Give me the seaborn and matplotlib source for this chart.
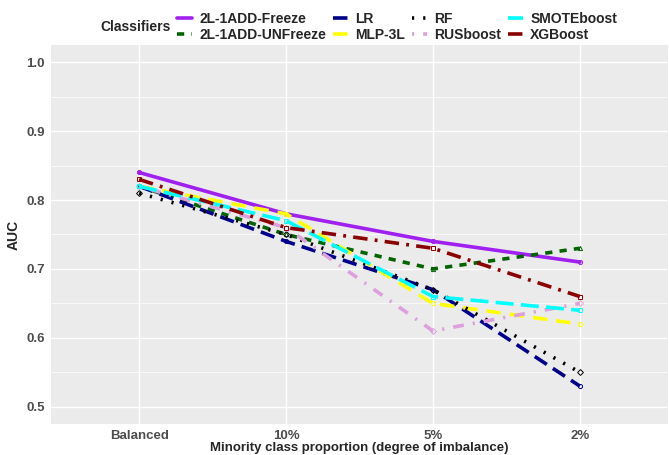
import matplotlib
matplotlib.use("Agg")
import matplotlib.pyplot as plt
import numpy as np
import pandas as pd
import seaborn as sns

# Data
levels = ["Balanced", "10%", "5%", "2%"]
classifiers = ["2L-1ADD-Freeze", "2L-1ADD-UNFreeze", "LR", "MLP-3L",
               "RF", "RUSboost", "SMOTEboost", "XGBoost"]
freeze = [0.84, 0.78, 0.74, 0.71]
unfreeze = [0.82, 0.75, 0.70, 0.73]
lr = [0.82, 0.74, 0.67, 0.53]
mlp = [0.82, 0.78, 0.65, 0.62]
rf = [0.81, 0.75, 0.67, 0.55]
rusboost = [0.82, 0.76, 0.61, 0.65]
smoteboost = [0.82, 0.77, 0.66, 0.64]
xgboost = [0.83, 0.76, 0.73, 0.66]

auc = [freeze, unfreeze, lr, mlp, rf, rusboost, smoteboost, xgboost]
df = pd.DataFrame({
    "level": levels * len(classifiers),
    "AUC": np.concatenate(auc),
    "Classifiers": np.repeat(classifiers, len(levels)),
})

palette = {
    "2L-1ADD-Freeze": "#A020F0",
    "2L-1ADD-UNFreeze": "#006400",
    "LR": "#00008B",
    "MLP-3L": "#FFFF00",
    "RF": "#000000",
    "RUSboost": "#DDA0DD",
    "SMOTEboost": "#00FFFF",
    "XGBoost": "#8B0000",
}
dashes = {
    "2L-1ADD-Freeze": "",
    "2L-1ADD-UNFreeze": (2, 2),
    "LR": (4, 2),
    "MLP-3L": (4, 2.5),
    "RF": (0.6, 2.5),
    "RUSboost": (0.6, 2.5, 3, 2.5),
    "SMOTEboost": (5, 2),
    "XGBoost": (4, 2, 0.8, 2),
}
markers = {
    "2L-1ADD-Freeze": "o", "2L-1ADD-UNFreeze": "^", "LR": "o", "MLP-3L": "o",
    "RF": "D", "RUSboost": "D", "SMOTEboost": "s", "XGBoost": "s",
}

sns.set_theme(style="darkgrid", rc={"axes.facecolor": "#EBEBEB",
                                    "grid.color": "white"})
plt.rcParams["font.family"] = ["Liberation Sans", "DejaVu Sans"]

fig = plt.figure(figsize=(6.69, 4.55), dpi=100)
ax = fig.add_axes([51 / 669, 31 / 455, 617 / 669, 379 / 455])

sns.lineplot(data=df, x="level", y="AUC", hue="Classifiers", style="Classifiers",
             hue_order=classifiers, style_order=classifiers, palette=palette,
             dashes=dashes, markers=markers, markersize=3,
             markeredgewidth=0.7, linewidth=2.6, sort=False, ax=ax)
for line in ax.lines:
    line.set_markerfacecolor("none")
    line.set_markeredgecolor(line.get_color())

ax.set_xlim(-0.6, 3.6)
ax.set_ylim(0.475, 1.025)
ax.set_yticks([0.5, 0.6, 0.7, 0.8, 0.9, 1.0])
ax.set_yticks([0.55, 0.65, 0.75, 0.85, 0.95], minor=True)
ax.set_yticklabels(["0.5", "0.6", "0.7", "0.8", "0.9", "1.0"])
ax.grid(which="major", color="white", linewidth=1.0)
ax.grid(which="minor", axis="y", color="white", linewidth=0.5)
ax.tick_params(axis="both", which="major", length=3, color="#333333",
               labelsize=9.5, labelcolor="#4D4D4D", pad=1.5)
ax.tick_params(which="minor", length=0)
for lab in ax.get_xticklabels() + ax.get_yticklabels():
    lab.set_fontweight("bold")
for s in ax.spines.values():
    s.set_visible(False)

ax.set_xlabel("Minority class proportion (degree of imbalance)",
              fontsize=9.5, fontweight="bold", labelpad=0)
ax.set_ylabel("AUC", fontsize=10, fontweight="bold", labelpad=4)

handles, labels = ax.get_legend_handles_labels()
ax.get_legend().remove()
for h in handles:
    h.set_marker("")
fig.text(100 / 669, 1 - 27 / 455, "Classifiers", fontsize=10, fontweight="bold",
         va="center", ha="left")
leg = fig.legend(handles, labels, ncol=4, loc="center left",
                 bbox_to_anchor=(170 / 669, 1 - 27 / 455), frameon=False,
                 fontsize=10, handlelength=1.1, handletextpad=0.5,
                 columnspacing=0.5, labelspacing=0.1, borderpad=0)
for t in leg.get_texts():
    t.set_fontweight("bold")

fig.savefig("out.png", dpi=100)
